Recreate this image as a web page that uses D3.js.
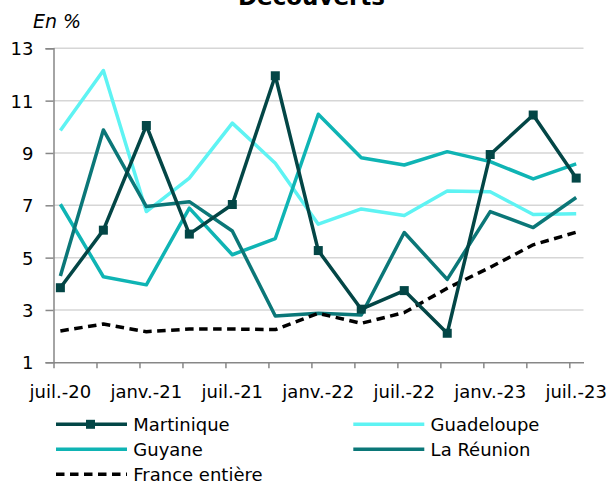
<!DOCTYPE html>
<html>
<head>
<meta charset="utf-8">
<script src="https://cdn.jsdelivr.net/npm/d3@7"></script>
<style>
  body { margin: 0; background: #fff; }
  text { font-family: "DejaVu Sans", sans-serif; fill: #000; }
</style>
</head>
<body>
<div id="chart"></div>
<script>
// trimestres, juil.-20 -> juil.-23
var periods = d3.range(13);
var tickLabels = ["juil.-20", "janv.-21", "juil.-21", "janv.-22", "juil.-22", "janv.-23", "juil.-23"];
var yTicks = [1, 3, 5, 7, 9, 11, 13];

var martinique = [3.85, 6.05, 10.05, 5.9, 7.03, 11.95, 5.27, 3.03, 3.74, 2.11, 8.94, 10.45, 8.04];
var guadeloupe = [9.86, 12.15, 6.76, 8.04, 10.14, 8.61, 6.28, 6.86, 6.61, 7.55, 7.52, 6.65, 6.68];
var guyane = [7.04, 4.27, 3.96, 6.89, 5.11, 5.73, 10.48, 8.82, 8.54, 9.05, 8.67, 8.01, 8.58];
var reunion = [4.3, 9.88, 6.95, 7.14, 6.02, 2.77, 2.87, 2.81, 5.96, 4.17, 6.76, 6.15, 7.3];
var france = [2.2, 2.46, 2.17, 2.27, 2.27, 2.25, 2.87, 2.49, 2.9, 3.83, 4.63, 5.49, 5.97];

var width = 610, height = 481;

var svg = d3.select("#chart").append("svg")
    .attr("width", width)
    .attr("height", height);

var x = d3.scaleLinear().domain([-0.16, 12.17]).range([53.5, 583.5]);
var y = d3.scaleLinear().domain([1, 13]).range([362.3, 48.3]);

// titre
svg.append("text")
    .attr("x", 311.5).attr("y", 5)
    .attr("text-anchor", "middle")
    .style("font-size", "23px").style("font-weight", "bold")
    .text("Découverts");

svg.append("text")
    .attr("x", 33).attr("y", 28)
    .style("font-size", "19px").style("font-style", "italic")
    .text("En %");

// grille
svg.append("g").selectAll("line")
    .data(yTicks.slice(1))
    .enter().append("line")
    .attr("x1", x.range()[0]).attr("x2", x.range()[1])
    .attr("y1", function(d) { return y(d); })
    .attr("y2", function(d) { return y(d); })
    .attr("stroke", "#d6d6d6")
    .attr("stroke-width", 1.5);

// axe Y
var yAxis = svg.append("g")
    .attr("transform", "translate(" + x.range()[0] + ",0)")
    .call(d3.axisLeft(y).tickValues(yTicks).tickSize(8).tickPadding(12).tickFormat(d3.format("d")));
yAxis.selectAll("text").style("font-size", "18px").attr("dy", "0.36em");

// axe X
var xAxis = svg.append("g")
    .attr("transform", "translate(0," + y(1) + ")")
    .call(d3.axisBottom(x).tickValues(periods.map(function(d) { return d - 0.16; }))
        .tickSize(6).tickSizeOuter(0).tickFormat(""));

svg.append("g").selectAll("text")
    .data(tickLabels)
    .enter().append("text")
    .attr("x", function(d, i) { return x(i * 2); })
    .attr("y", 398.3)
    .attr("text-anchor", "middle")
    .style("font-size", "18px")
    .text(function(d) { return d; });

svg.selectAll(".domain, .tick line")
    .attr("stroke", "#878787")
    .attr("stroke-width", 1.5);

var line = d3.line()
    .x(function(d, i) { return x(i); })
    .y(function(d) { return y(d); });

var series = [
    { name: "Guadeloupe", values: guadeloupe, color: "#5ef3f3" },
    { name: "Guyane", values: guyane, color: "#0fb4b4" },
    { name: "La Réunion", values: reunion, color: "#0b7778" },
    { name: "France entière", values: france, color: "#000", dash: "8.5,5.5" },
    { name: "Martinique", values: martinique, color: "#034646", marker: true }
];

series.forEach(function(s) {
    svg.append("path")
        .datum(s.values)
        .attr("d", line)
        .attr("fill", "none")
        .attr("stroke", s.color)
        .attr("stroke-width", 3.5)
        .attr("stroke-linejoin", "round")
        .attr("stroke-dasharray", s.dash || null);
    if (s.marker) {
        svg.append("g").selectAll("rect")
            .data(s.values)
            .enter().append("rect")
            .attr("x", function(d, i) { return x(i) - 4.5; })
            .attr("y", function(d) { return y(d) - 4.5; })
            .attr("width", 9).attr("height", 9)
            .attr("fill", s.color);
    }
});

// légende
var legendItems = [
    { name: "Martinique", color: "#034646", marker: true, lx: 56, ly: 424.3 },
    { name: "Guadeloupe", color: "#5ef3f3", lx: 353.3, ly: 424.3 },
    { name: "Guyane", color: "#0fb4b4", lx: 56, ly: 449.3 },
    { name: "La Réunion", color: "#0b7778", lx: 353.3, ly: 449.3 },
    { name: "France entière", color: "#000", dash: "8.5,5.5", lx: 56, ly: 474.3 }
];

var legend = svg.append("g").selectAll("g")
    .data(legendItems)
    .enter().append("g")
    .attr("transform", function(d) { return "translate(" + d.lx + "," + d.ly + ")"; });

legend.append("line")
    .attr("x1", 0).attr("x2", 71)
    .attr("stroke", function(d) { return d.color; })
    .attr("stroke-width", 3.5)
    .attr("stroke-dasharray", function(d) { return d.dash || null; });

legend.filter(function(d) { return d.marker; }).append("rect")
    .attr("x", 30).attr("y", -4.5)
    .attr("width", 9).attr("height", 9)
    .attr("fill", function(d) { return d.color; });

legend.append("text")
    .attr("x", 77.3).attr("dy", "0.35em")
    .style("font-size", "18px")
    .text(function(d) { return d.name; });
</script>
</body>
</html>
